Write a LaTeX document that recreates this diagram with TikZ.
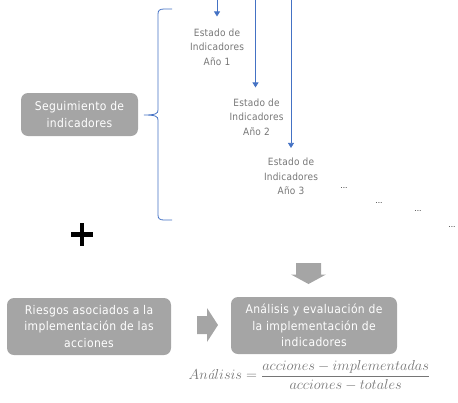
\documentclass[tikz,border=0pt]{standalone}
\usepackage[no-math]{fontspec}
\newfontfamily\boxfont{DejaVu Sans Condensed}[LetterSpace=3]
\newfontfamily\lblfont{DejaVu Sans Condensed}[LetterSpace=2]
\usetikzlibrary{arrows.meta}
\definecolor{boxgray}{HTML}{A5A5A5}
\definecolor{txtgray}{HTML}{767676}
\definecolor{lineblue}{HTML}{4472C4}
\begin{document}
\begin{tikzpicture}[x=1pt,y=-1pt,
  graybox/.style={fill=boxgray,rounded corners=7pt,text=white,align=center,
    font=\boxfont\fontsize{12}{16.5}\selectfont,inner sep=0pt},
  yearlbl/.style={text=txtgray,align=center,font=\lblfont\fontsize{10}{14.5}\selectfont,inner sep=1pt},
  dots/.style={font=\bfseries\fontsize{6}{6}\selectfont,inner sep=0pt},
  yeararrow/.style={draw=lineblue,line width=0.8pt,-{Triangle[width=6pt,length=5pt]}},
  blockarrow/.style={fill=boxgray,draw=none}]
\useasboundingbox (0,0) rectangle (458,402);
% main boxes
\node[graybox,minimum width=117pt,minimum height=43pt] (seg) at (79.5,114.5) {Seguimiento de\\indicadores};
\node[graybox,minimum width=164pt,minimum height=57pt] (riesgos) at (89,326.5) {Riesgos asociados a la\\implementación de las\\acciones};
\node[graybox,minimum width=166pt,minimum height=57pt] (analisis) at (314,325.5) {Análisis y evaluación de\\la implementación de\\indicadores};
% brace
\draw[lineblue,line width=0.8pt] (172,9) -- (164,9) .. controls (159.5,9) and (158,10.5) .. (158,14)
  -- (158,110) .. controls (158,113.5) and (156,115) .. (144,115)
  .. controls (156,115) and (158,116.5) .. (158,120)
  -- (158,215) .. controls (158,218.5) and (159.5,220) .. (164,220) -- (172,220);
% year labels
\node[yearlbl] (e1) at (217,47) {Estado de\\Indicadores\\Año 1};
\node[yearlbl] (e2) at (256.5,117) {Estado de\\Indicadores\\Año 2};
\node[yearlbl] (e3) at (291,176.5) {Estado de\\Indicadores\\Año 3};
\coordinate (a1) at (217,0);
\coordinate (a2) at (255.5,0);
\coordinate (a3) at (291,0);
\draw[yeararrow,shorten >=11pt] (a1) -- (e1.north -| a1);
\draw[yeararrow,shorten >=10pt] (a2) -- (e2.north -| a2);
\draw[yeararrow,shorten >=9pt] (a3) -- (e3.north -| a3);
% dots
\node[dots] (d1) at (344,188) {...};
\node[dots] (d2) at (379,203) {...};
\node[dots] (d3) at (418,211) {...};
\node[dots] (d4) at (452,227) {...};
% plus
\draw[line width=4.5pt] (71,234.5) -- (93,234.5);
\draw[line width=4.5pt] (82,223) -- (82,246);
% block arrows
\fill[blockarrow] (296,263) -- (321,263) -- (321,274.5) -- (326,274.5) -- (308.5,284)
  -- (291,274.5) -- (296,274.5) -- cycle;
\fill[blockarrow] (197,316) -- (207,316) -- (207,308) -- (218,325) -- (207,342)
  -- (207,334) -- (197,334) -- cycle;
% formula
\node[text=txtgray,inner sep=0pt] (formula) at (309.5,375.5)
  {\fontsize{14}{16}\selectfont $\displaystyle An\hbox{\rmfamily\itshape á}lisis=\frac{acciones-implementadas}{acciones-totales}$};
\end{tikzpicture}
\end{document}
